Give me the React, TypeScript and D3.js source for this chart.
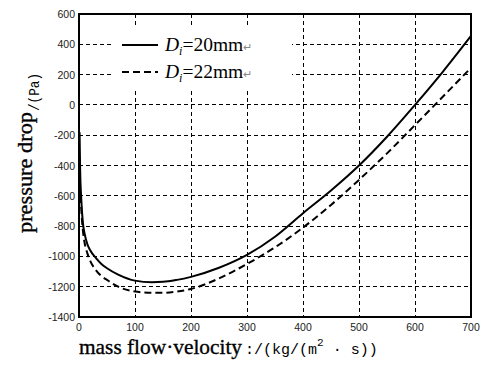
import * as d3 from 'd3';

// mass flow velocity, kg/(m2*s)
const gSolid = [1, 2, 4, 7, 10, 15, 20, 30, 40, 50, 70, 100, 130, 150, 175, 200, 250, 300, 350, 400, 450, 500, 550, 600, 650, 700];
// pressure drop, Pa  (Di = 20mm)
const dpSolid = [-180, -420, -620, -780, -850, -920, -960, -1010, -1050, -1078, -1120, -1160, -1170, -1168, -1155, -1135, -1075, -990, -870, -715, -565, -400, -210, 0, 220, 455];
const gDashed = [3, 4, 7, 10, 15, 20, 30, 40, 50, 70, 100, 130, 150, 175, 200, 250, 300, 350, 400, 450, 500, 550, 600, 650, 700];
// pressure drop, Pa  (Di = 22mm)
const dpDashed = [-600, -680, -830, -910, -980, -1030, -1090, -1130, -1155, -1200, -1232, -1240, -1240, -1232, -1215, -1145, -1050, -940, -810, -660, -495, -320, -133, 55, 245];

const xTicks = [0, 100, 200, 300, 400, 500, 600, 700];
const yTicks = [600, 400, 200, 0, -200, -400, -600, -800, -1000, -1200, -1400];

const W = 481, H = 365;
const L = 79, T = 14, R = 471, B = 317;

const x = d3.scaleLinear().domain([0, 700]).range([L, R]);
const y = d3.scaleLinear().domain([-1400, 600]).range([B, T]);

type Pt = [number, number];
const line = d3.line<Pt>().x(d => x(d[0])).y(d => y(d[1])).curve(d3.curveMonotoneX);

const solidPts: Pt[] = gSolid.map((g, i) => [g, dpSolid[i]]);
const dashedPts: Pt[] = gDashed.map((g, i) => [g, dpDashed[i]]);

const tickFont = 'Arial, "Liberation Sans", sans-serif';
const serif = '"Times New Roman", "Liberation Serif", serif';
const mono = '"Liberation Mono", "DejaVu Sans Mono", monospace';

export default function App() {
  return (
    <svg width={W} height={H} style={{ position: 'absolute', left: 0, top: 0, background: '#fff' }}>
      <defs>
        <clipPath id="plot">
          <rect x={L} y={T} width={R - L} height={B - T} />
        </clipPath>
      </defs>

      {/* grid */}
      <g stroke="#000" strokeWidth={1} strokeDasharray="4,3" shapeRendering="crispEdges">
        {xTicks.slice(1, -1).map(t => (
          <line key={'gx' + t} x1={x(t)} x2={x(t)} y1={T} y2={B} />
        ))}
        {yTicks.slice(1, -1).map(t => (
          <line key={'gy' + t} x1={L} x2={R} y1={y(t)} y2={y(t)} />
        ))}
      </g>

      {/* legend box hides grid */}
      <rect x={114} y={28} width={178} height={60} fill="#fff" />

      {/* curves */}
      <g clipPath="url(#plot)" fill="none" stroke="#000" strokeWidth={2}>
        <path d={line(solidPts) ?? ''} />
        <path d={line(dashedPts) ?? ''} strokeDasharray="7,4" />
      </g>

      {/* frame */}
      <rect x={L} y={T} width={R - L} height={B - T} fill="none" stroke="#000" strokeWidth={1.3} shapeRendering="crispEdges" />

      {/* ticks */}
      <g fontFamily={tickFont} fontSize={10.5} fill="#222">
        {xTicks.map(t => (
          <text key={'tx' + t} x={x(t)} y={331} textAnchor="middle">{t}</text>
        ))}
        {yTicks.map(t => (
          <text key={'ty' + t} x={75} y={y(t) + 4} textAnchor="end">{t}</text>
        ))}
      </g>

      {/* legend */}
      <line x1={122} x2={158} y1={45} y2={45} stroke="#000" strokeWidth={2} />
      <line x1={122} x2={158} y1={72} y2={72} stroke="#000" strokeWidth={2} strokeDasharray="7,4" />
      <text x={165} y={51} fontFamily={serif} fontSize={19.5} fill="#000">
        <tspan fontStyle="italic">D</tspan>
        <tspan fontStyle="italic" fontSize={12} dy={4}>i</tspan>
        <tspan dy={-4}>=20mm</tspan>
        <tspan fontSize={11} fill="#888">↵</tspan>
      </text>
      <text x={165} y={78} fontFamily={serif} fontSize={19.5} fill="#000">
        <tspan fontStyle="italic">D</tspan>
        <tspan fontStyle="italic" fontSize={12} dy={4}>i</tspan>
        <tspan dy={-4}>=22mm</tspan>
        <tspan fontSize={11} fill="#888">↵</tspan>
      </text>

      {/* axis titles */}
      <g fill="#000" stroke="#000" strokeWidth={0.35}>
        <text x={79} y={354} fontFamily={serif} fontSize={22} textLength={163} lengthAdjust="spacingAndGlyphs">mass flow·velocity</text>
        <text transform="translate(32,233) rotate(-90)" fontFamily={serif} fontSize={22} textLength={121} lengthAdjust="spacingAndGlyphs">pressure drop</text>
      </g>
      <text x={245} y={354} fontFamily={mono} fill="#000">
        <tspan fontSize={15}>:/(kg/(m</tspan>
        <tspan fontSize={11} dy={-8}>2</tspan>
        <tspan fontSize={15} dy={8}> · s))</tspan>
      </text>
      <text transform="translate(39,111) rotate(-90)" fontFamily={mono} fontSize={14} fill="#000" textLength={38} lengthAdjust="spacingAndGlyphs">/(Pa)</text>
    </svg>
  );
}
